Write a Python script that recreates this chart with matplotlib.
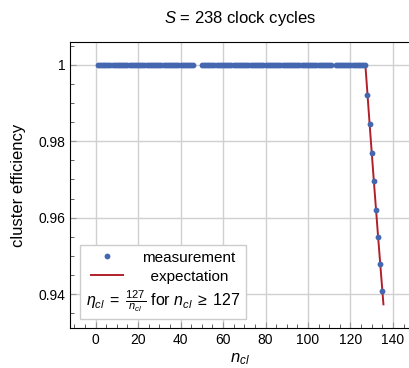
import matplotlib
matplotlib.use("Agg")
import matplotlib.pyplot as plt
from matplotlib.ticker import MultipleLocator, FuncFormatter

plt.rcParams['font.family'] = ['Liberation Sans', 'DejaVu Sans']
plt.rcParams['mathtext.fontset'] = 'custom'
plt.rcParams['mathtext.rm'] = 'Liberation Sans'
plt.rcParams['mathtext.it'] = 'Liberation Sans:italic'

# --- data ---
# cluster sizes measured (gaps at 47-49 and 112 are missing in the scan)
n_meas = list(range(1, 47)) + list(range(50, 112)) + list(range(113, 136))
eff_meas = [1.0] * (len(n_meas) - 8) + [0.9922, 0.9845, 0.9769, 0.9695,
                                        0.9621, 0.9549, 0.9478, 0.9407]

# expectation eta = 127 / n for n >= 127
n_exp = [127.0, 129.0, 131.0, 133.0, 135.5]
eff_exp = [1.0, 0.9845, 0.9695, 0.9549, 0.9373]

fig = plt.figure(figsize=(4.1, 3.68), dpi=100)
ax = fig.add_axes([70/410, 1 - 328/368, 340/410, 286/368])

ax.plot(n_exp, eff_exp, color='#b0202a', lw=1.4, label='expectation', zorder=3)
ax.plot(n_meas, eff_meas, 'o', color='#4467b0', ms=4.2, mec='none',
        label='measurement', zorder=4)

ax.set_xlim(-12, 148)
ax.set_ylim(0.9311, 1.006)
ax.xaxis.set_major_locator(MultipleLocator(20))
ax.xaxis.set_minor_locator(MultipleLocator(5))
ax.yaxis.set_major_locator(MultipleLocator(0.02))
ax.yaxis.set_minor_locator(MultipleLocator(0.005))
ax.yaxis.set_major_formatter(FuncFormatter(lambda v, p: f"{v:.2f}".rstrip('0').rstrip('.')))

ax.grid(True, which='major', color='#d0d0d0', lw=1.0)
ax.set_axisbelow(True)
ax.tick_params(which='both', direction='in', labelsize=10, top=False, right=False)
ax.tick_params(which='major', length=4, color='#999999')
ax.tick_params(which='minor', length=3, color='#444444')
ax.spines['right'].set_color('#999999')

ax.set_xlabel(r'$n_{cl}$', fontsize=12, labelpad=3)
ax.set_ylabel('cluster efficiency', fontsize=12, labelpad=9)
ax.set_title(r'$S$ = 238 clock cycles', fontsize=12, pad=14)

h, l = ax.get_legend_handles_labels()
leg = ax.legend([h[1], h[0]], ['measurement', '  expectation'], loc='lower left',
                bbox_to_anchor=(0.03, 0.03), fontsize=11, fancybox=False,
                framealpha=1, edgecolor='#cccccc', borderaxespad=0,
                handlelength=2.1, handletextpad=1.25, labelspacing=0.32,
                borderpad=0.35,
                title=r'$\eta_{cl}\;=\;\frac{127}{n_{cl}}$ for $n_{cl}\;\geq\;127$',
                title_fontsize=11.5)
# put the formula under the entries
box = leg._legend_box
box._children = [box._children[1], box._children[0]]

fig.savefig('out.png', dpi=100)
